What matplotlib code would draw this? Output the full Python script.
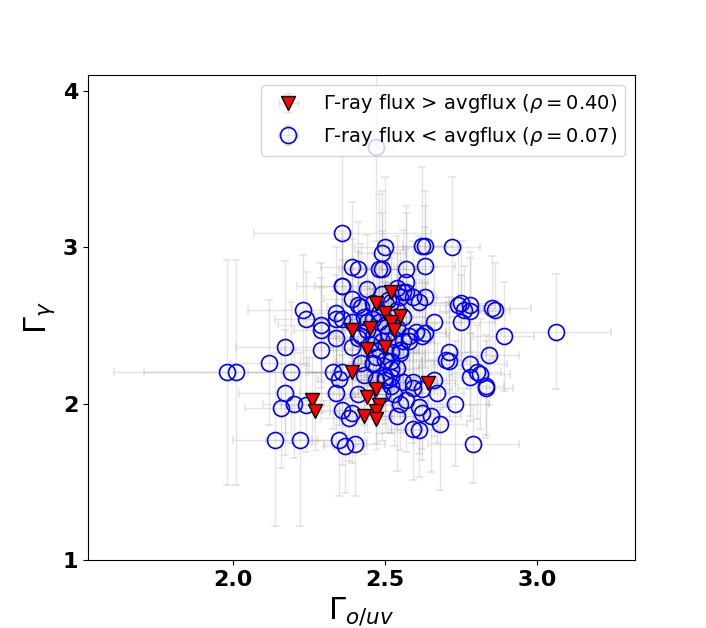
import matplotlib
matplotlib.use('Agg')
import matplotlib.pyplot as plt

# --- sources with gamma-ray flux above the average ---
hi_x = [2.50, 2.55, 2.52, 2.53, 2.45, 2.39, 2.44, 2.50, 2.39, 2.26,
        2.27, 2.47, 2.44, 2.48, 2.47, 2.43, 2.47, 2.64, 2.52, 2.47]
hi_y = [2.58, 2.56, 2.52, 2.47, 2.48, 2.47, 2.35, 2.36, 2.20, 2.02,
        1.95, 2.09, 2.04, 1.99, 1.95, 1.92, 1.90, 2.13, 2.71, 2.64]
hi_xerr = [0.06, 0.08, 0.05, 0.07, 0.09, 0.06, 0.08, 0.05, 0.07, 0.10,
           0.08, 0.06, 0.07, 0.05, 0.06, 0.08, 0.05, 0.09, 0.06, 0.07]
hi_yerr = [0.20, 0.25, 0.18, 0.22, 0.26, 0.20, 0.24, 0.18, 0.22, 0.28,
           0.25, 0.20, 0.22, 0.18, 0.20, 0.24, 0.19, 0.26, 0.22, 0.20]

# --- sources with gamma-ray flux below the average ---
lo_x = [2.47, 2.36, 2.50, 2.49, 2.62, 2.63, 2.72, 2.39, 2.41, 2.48,
        2.49, 2.57, 2.63, 2.57, 2.36, 2.36, 2.54, 2.56, 2.57, 2.59,
        2.63, 2.55, 2.39, 2.52, 2.61, 2.74, 2.75, 2.78, 2.41, 2.42,
        2.76, 2.78, 2.85, 2.86, 2.23, 2.24, 2.34, 2.48, 2.56, 2.43,
        2.36, 2.34, 2.46, 2.39, 2.29, 2.66, 2.75, 2.63, 2.60, 2.58,
        2.89, 3.06, 2.29, 2.34, 2.41, 2.46, 2.42, 2.17, 2.29, 2.39,
        2.52, 2.55, 2.56, 2.55, 2.71, 2.70, 2.71, 2.84, 2.12, 2.42,
        2.46, 2.52, 2.54, 2.78, 2.80, 2.81, 2.78, 1.98, 2.01, 2.19,
        2.33, 2.35, 2.36, 2.43, 2.47, 2.50, 2.50, 2.52, 2.52, 2.56,
        2.59, 2.66, 2.83, 2.83, 2.52, 2.59, 2.62, 2.67, 2.34, 2.17,
        2.20, 2.16, 2.24, 2.57, 2.73, 2.61, 2.36, 2.39, 2.38, 2.62,
        2.65, 2.68, 2.59, 2.61, 2.14, 2.22, 2.35, 2.37, 2.40, 2.79,
        2.44, 2.46, 2.62, 2.58, 2.48, 2.50, 2.53, 2.51, 2.45, 2.48,
        2.49, 2.44, 2.54, 2.47, 2.50, 2.54, 2.51, 2.46, 2.49, 2.44,
        2.49, 2.53, 2.55, 2.54, 2.41]
lo_y = [3.64, 3.09, 3.00, 2.96, 3.01, 3.01, 3.00, 2.87, 2.86, 2.86,
        2.86, 2.86, 2.88, 2.78, 2.75, 2.75, 2.74, 2.71, 2.71, 2.68,
        2.68, 2.68, 2.67, 2.65, 2.65, 2.63, 2.64, 2.63, 2.63, 2.62,
        2.60, 2.59, 2.61, 2.60, 2.60, 2.54, 2.58, 2.58, 2.55, 2.55,
        2.54, 2.54, 2.54, 2.52, 2.50, 2.52, 2.52, 2.45, 2.46, 2.43,
        2.43, 2.46, 2.47, 2.42, 2.42, 2.43, 2.43, 2.36, 2.34, 2.36,
        2.33, 2.34, 2.40, 2.32, 2.33, 2.28, 2.27, 2.31, 2.26, 2.26,
        2.26, 2.27, 2.23, 2.25, 2.20, 2.19, 2.17, 2.20, 2.20, 2.20,
        2.20, 2.16, 2.20, 2.18, 2.15, 2.15, 2.17, 2.17, 2.22, 2.14,
        2.14, 2.15, 2.10, 2.11, 2.11, 2.10, 2.09, 2.07, 2.07, 2.07,
        2.00, 1.97, 1.99, 2.02, 2.00, 1.98, 1.96, 1.94, 1.91, 1.94,
        1.92, 1.87, 1.84, 1.83, 1.77, 1.77, 1.77, 1.73, 1.74, 1.74,
        2.52, 2.25, 2.43, 2.40, 2.52, 2.50, 2.41, 2.45, 2.38, 2.34,
        2.40, 2.47, 2.48, 2.30, 2.28, 2.60, 2.66, 2.64, 2.70, 2.73,
        2.06, 2.06, 2.00, 1.92, 2.06]
lo_xerr = [0.06, 0.29, 0.10, 0.08, 0.12, 0.07, 0.09, 0.10, 0.06, 0.12,
           0.05, 0.08, 0.10, 0.07, 0.15, 0.09, 0.06, 0.10, 0.05, 0.08,
           0.11, 0.07, 0.09, 0.06, 0.10, 0.09, 0.12, 0.08, 0.07, 0.11,
           0.06, 0.10, 0.13, 0.05, 0.18, 0.10, 0.08, 0.06, 0.09, 0.07,
           0.12, 0.06, 0.10, 0.08, 0.14, 0.09, 0.11, 0.07, 0.10, 0.06,
           0.10, 0.18, 0.09, 0.07, 0.11, 0.06, 0.08, 0.16, 0.12, 0.07,
           0.09, 0.06, 0.10, 0.08, 0.12, 0.07, 0.09, 0.10, 0.13, 0.08,
           0.06, 0.10, 0.07, 0.12, 0.08, 0.10, 0.06, 0.37, 0.30, 0.14,
           0.09, 0.07, 0.11, 0.06, 0.08, 0.10, 0.06, 0.09, 0.07, 0.11,
           0.08, 0.10, 0.09, 0.06, 0.08, 0.07, 0.10, 0.09, 0.12, 0.15,
           0.10, 0.12, 0.08, 0.07, 0.11, 0.08, 0.10, 0.07, 0.09, 0.06,
           0.10, 0.09, 0.08, 0.07, 0.14, 0.11, 0.09, 0.07, 0.10, 0.15,
           0.08, 0.06, 0.09, 0.07, 0.10, 0.06, 0.08, 0.07, 0.09, 0.06,
           0.10, 0.07, 0.08, 0.06, 0.09, 0.07, 0.10, 0.06, 0.08, 0.07,
           0.09, 0.07, 0.08, 0.06, 0.10]
lo_yerr = [0.60, 0.52, 0.45, 0.40, 0.50, 0.35, 0.45, 0.42, 0.30, 0.48,
           0.36, 0.40, 0.38, 0.44, 0.35, 0.30, 0.33, 0.40, 0.28, 0.36,
           0.45, 0.30, 0.38, 0.32, 0.42, 0.35, 0.40, 0.30, 0.34, 0.40,
           0.28, 0.38, 0.33, 0.30, 0.35, 0.30, 0.42, 0.30, 0.36, 0.32,
           0.38, 0.28, 0.34, 0.30, 0.40, 0.35, 0.30, 0.32, 0.36, 0.28,
           0.35, 0.37, 0.33, 0.30, 0.38, 0.28, 0.34, 0.55, 0.40, 0.32,
           0.30, 0.36, 0.28, 0.33, 0.35, 0.30, 0.38, 0.32, 0.40, 0.34,
           0.30, 0.36, 0.28, 0.33, 0.30, 0.35, 0.28, 0.72, 0.72, 0.45,
           0.36, 0.30, 0.38, 0.32, 0.28, 0.34, 0.30, 0.36, 0.30, 0.33,
           0.28, 0.36, 0.30, 0.33, 0.30, 0.35, 0.38, 0.32, 0.36, 0.40,
           0.35, 0.38, 0.30, 0.33, 0.40, 0.30, 0.35, 0.32, 0.28, 0.30,
           0.36, 0.42, 0.33, 0.30, 0.55, 0.55, 0.36, 0.30, 0.33, 0.25,
           0.34, 0.30, 0.36, 0.32, 0.30, 0.28, 0.33, 0.30, 0.35, 0.28,
           0.32, 0.30, 0.34, 0.30, 0.33, 0.36, 0.38, 0.32, 0.40, 0.35,
           0.30, 0.33, 0.30, 0.35, 0.32]

label_hi = '\u0393-ray flux > avgflux ($\\rho=0.40$)'
label_lo = '\u0393-ray flux < avgflux ($\\rho=0.07$)'

err_col = (0.6, 0.6, 0.6, 0.25)

fig = plt.figure(figsize=(7.06, 6.28), dpi=100)
ax = fig.add_axes([0.1246, 0.1083, 0.7748, 0.7723])

h_lo = ax.errorbar(lo_x, lo_y, xerr=lo_xerr, yerr=lo_yerr, fmt='o',
                   mfc='none', mec='blue', ms=11.5, mew=1.2,
                   ecolor=err_col, elinewidth=1, capsize=3, label=label_lo)
h_hi = ax.errorbar(hi_x, hi_y, xerr=hi_xerr, yerr=hi_yerr, fmt='v',
                   mfc='red', mec='black', ms=10, mew=1.0,
                   ecolor=err_col, elinewidth=1, capsize=3, label=label_hi)

ax.set_xlim(1.525, 3.32)
ax.set_ylim(1.0, 4.1)
ax.set_xticks([2.0, 2.5, 3.0])
ax.set_yticks([1, 2, 3, 4])
for lab in ax.get_xticklabels() + ax.get_yticklabels():
    lab.set_fontweight('bold')
    lab.set_fontsize(16)

ax.set_xlabel(r'$\Gamma_{o/uv}$', fontsize=22)
ax.set_ylabel(r'$\Gamma_{\gamma}$', fontsize=22)

ax.legend(handles=[h_hi, h_lo], loc='upper right', fontsize=14,
          handletextpad=0.8)

fig.savefig('out.png', dpi=100)
